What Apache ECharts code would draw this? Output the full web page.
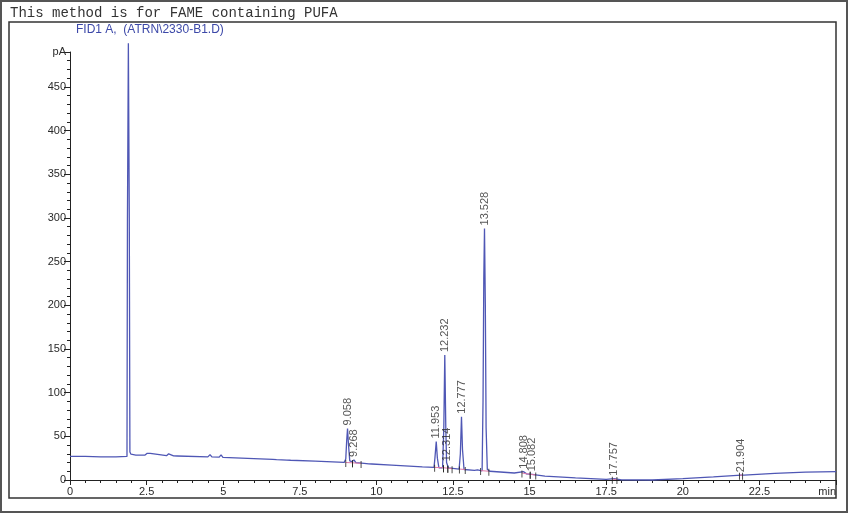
<!DOCTYPE html>
<html>
<head>
<meta charset="utf-8">
<script src="https://cdn.jsdelivr.net/npm/echarts@6/dist/echarts.min.js"></script>
<style>
html,body{margin:0;padding:0;background:#fff;}
#chart{width:848px;height:513px;}
</style>
</head>
<body>
<div id="chart"></div>
<script>
// ---- data ----
var traceTimes = [0, 0.5, 1.0, 1.5, 1.86, 1.875, 1.905, 1.935, 1.955, 1.99, 2.05, 2.15,
  2.45, 2.52, 2.57, 2.62, 2.68, 3.15, 3.22, 3.28, 3.38, 3.44, 3.5,
  4.5, 4.57, 4.63, 4.87, 4.93, 4.99, 6.0, 6.62, 6.68, 6.74, 7.08, 7.14, 7.2,
  8.0, 8.95, 9.0, 9.03, 9.058, 9.09, 9.13, 9.2, 9.268, 9.33, 9.6, 9.75, 9.8, 9.85,
  10.5, 11.5, 11.88, 11.91, 11.953, 11.99, 12.04, 12.16, 12.2, 12.232, 12.265, 12.29, 12.314, 12.35,
  12.7, 12.74, 12.777, 12.81, 12.86, 13.2, 13.3, 13.35, 13.45, 13.48, 13.505, 13.528, 13.555, 13.58, 13.62, 13.7,
  14.5, 14.808, 14.9, 15.082, 15.5, 16.5, 17.5, 17.757, 18.0, 19.0, 20.0, 21.0, 21.904, 22.0, 23.0, 24.0, 25.0];
var traceValues = [27, 27, 26.5, 26.5, 27, 300, 500, 300, 32, 29.5, 29, 28.5,
  28.5, 30.5, 29, 30.5, 28.5, 27.8, 30, 27.8, 27.6, 29.8, 27.5,
  26.5, 29, 26.4, 26.2, 28.8, 26, 24.5, 23.5, 25, 23.3, 22.8, 24.8, 22.6,
  21.5, 20.2, 24, 45, 59, 40, 22, 21, 23, 19.8, 19, 18.5, 19.8, 18.3,
  17, 15, 14.5, 25, 44, 25, 14, 14, 60, 143, 60, 20, 18, 14,
  12.5, 30, 72.5, 35, 12, 11, 11.5, 10.8, 10.5, 90, 230, 288, 200, 60, 12, 10,
  8, 9.5, 7, 6.5, 4.5, 2.5, 0.8, 1.5, 0.2, 0, 1.5, 3.5, 5.5, 5.5, 7.5, 9, 9.5];

var peakTimes = [9.058, 9.268, 11.953, 12.232, 12.314, 12.777, 13.528, 14.808, 15.082, 17.757, 21.904];
var peakHeights = [59, 23, 44, 143, 18, 72.5, 288, 9.5, 6.5, 1.5, 5.5];
var peakLabels = ["9.058", "9.268", "11.953", "12.232", "12.314", "12.777", "13.528", "14.808", "15.082", "17.757", "21.904"];

// integration baselines (start/end time and level)
var intStartT = [9.0, 9.22, 11.9, 12.19, 12.33, 12.71, 13.4, 14.75, 15.02, 17.7, 21.85];
var intStartV = [20, 19.7, 14.5, 14, 13.5, 12.5, 10.8, 8, 6.5, 1, 5.5];
var intEndT   = [9.22, 9.5, 12.19, 12.33, 12.47, 12.9, 13.67, 15.02, 15.2, 17.85, 21.95];
var intEndV   = [19.7, 19, 14, 13.5, 13, 12, 10, 6.5, 5.8, 0.5, 5.5];

var xTicks = [0, 2.5, 5, 7.5, 10, 12.5, 15, 17.5, 20, 22.5, 25];
var yTicks = [0, 50, 100, 150, 200, 250, 300, 350, 400, 450, 490];

var titleText = "This method is for FAME containing PUFA";
var signalText = "FID1 A,  (ATRN\\2330-B1.D)";

// ---- build chart ----
var traceData = traceTimes.map(function (t, i) { return [t, traceValues[i]]; });
var peakData = peakTimes.map(function (t, i) { return { value: [t, peakHeights[i]], name: peakLabels[i] }; });

var series = [{
  type: 'line',
  data: traceData,
  showSymbol: false,
  symbol: 'none',
  clip: false,
  lineStyle: { color: '#4f57b5', width: 1.3 },
  z: 3,
  animation: false
}];

intStartT.forEach(function (t, i) {
  series.push({
    type: 'line',
    data: [[t, intStartV[i]], [intEndT[i], intEndV[i]]],
    symbol: 'none',
    lineStyle: { color: '#e07aa8', width: 1 },
    z: 4,
    animation: false
  });
});

var tickMarks = [];
intStartT.forEach(function (t, i) {
  tickMarks.push([t, intStartV[i]]);
  tickMarks.push([intEndT[i], intEndV[i]]);
});
series.push({
  type: 'scatter',
  data: tickMarks,
  symbol: 'rect',
  symbolSize: [1, 7],
  symbolOffset: [0, 1],
  itemStyle: { color: '#222' },
  z: 5,
  animation: false
});

series.push({
  type: 'scatter',
  data: peakData,
  symbolSize: 0,
  label: {
    show: true,
    position: 'top',
    distance: 3,
    rotate: 90,
    align: 'left',
    verticalAlign: 'middle',
    formatter: function (p) { return p.name; },
    color: '#2a2a2a',
    fontFamily: 'Liberation Sans, Arial, sans-serif',
    fontSize: 11
  },
  z: 6,
  animation: false
});

var chart = echarts.init(document.getElementById('chart'), null, { renderer: 'canvas' });
chart.setOption({
  animation: false,
  backgroundColor: '#fff',
  grid: { left: 70, right: 12, top: 52, bottom: 33 },
  xAxis: {
    type: 'value',
    min: xTicks[0],
    max: xTicks[xTicks.length - 1],
    interval: 2.5,
    axisLine: { show: true, onZero: false, lineStyle: { color: '#222', width: 1 } },
    axisTick: { show: true, inside: false, length: 5, lineStyle: { color: '#222' } },
    minorTick: { show: true, splitNumber: 5, length: 3, lineStyle: { color: '#222' } },
    splitLine: { show: false },
    axisLabel: {
      color: '#2a2a2a', fontSize: 11, margin: 6,
      fontFamily: 'Liberation Sans, Arial, sans-serif',
      alignMaxLabel: 'right',
      formatter: function (v) { return v === 25 ? 'min' : String(v); }
    }
  },
  yAxis: {
    type: 'value',
    min: yTicks[0],
    max: yTicks[yTicks.length - 1],
    interval: 50,
    axisLine: { show: true, lineStyle: { color: '#222', width: 1 } },
    axisTick: { show: true, inside: false, length: 6, lineStyle: { color: '#222' } },
    minorTick: { show: true, splitNumber: 5, length: 3, lineStyle: { color: '#222' } },
    splitLine: { show: false },
    axisLabel: {
      color: '#2a2a2a', fontSize: 11, margin: 4,
      fontFamily: 'Liberation Sans, Arial, sans-serif',
      formatter: function (v) { return v === 490 ? 'pA' : String(v); }
    }
  },
  graphic: [
    { type: 'rect', shape: { x: 1, y: 1, width: 846, height: 511 }, style: { fill: 'none', stroke: '#555', lineWidth: 2 }, silent: true },
    { type: 'rect', shape: { x: 9, y: 22, width: 827, height: 476 }, style: { fill: 'none', stroke: '#333', lineWidth: 1.5 }, silent: true },
    { type: 'text', left: 10, top: 6, style: { text: titleText, fill: '#333', font: '14px "Liberation Mono", "Courier New", monospace' } },
    { type: 'text', left: 76, top: 24, style: { text: signalText, fill: '#3c48a8', font: '12px "Liberation Sans", Arial, sans-serif' } }
  ],
  series: series
});
</script>
</body>
</html>
